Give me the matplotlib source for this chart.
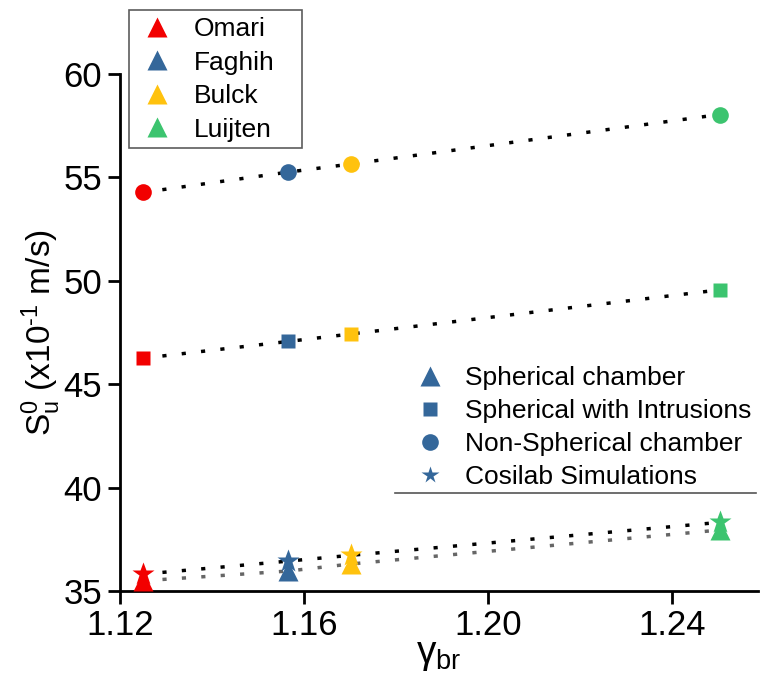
import matplotlib
matplotlib.use("Agg")
from matplotlib import pyplot as plt
from matplotlib.lines import Line2D
import numpy as np

plt.rcParams['font.family'] = ['Liberation Sans', 'DejaVu Sans']
plt.rcParams['mathtext.fontset'] = 'custom'
plt.rcParams['mathtext.rm'] = 'Liberation Sans'
plt.rcParams['mathtext.it'] = 'Liberation Sans:italic'

# data
gamma_br = [1.125, 1.1566, 1.1702, 1.2504]
sources = ["Omari", "Faghih", "Bulck", "Luijten"]
colors = ["#F20000", "#34679A", "#FFC20E", "#3CC46F"]

su_spherical = [35.5, 35.97, 36.31, 37.95]
su_intrusions = [46.25, 47.06, 47.42, 49.55]
su_nonspherical = [54.26, 55.24, 55.63, 58.02]
su_cosilab = [35.82, 36.45, 36.73, 38.32]

methods = ["Spherical chamber", "Spherical with Intrusions",
           "Non-Spherical chamber", "Cosilab Simulations"]

fig = plt.figure(figsize=(7.6, 6.81), dpi=100)
ax = fig.add_axes([0.158, 0.132, 0.839, 0.760])

# dotted connecting lines
dots = (0, (1.2, 4.4))
ax.plot(gamma_br, su_nonspherical, ls=dots, color="black", lw=2.5, zorder=1)
ax.plot(gamma_br, su_intrusions, ls=dots, color="black", lw=2.5, zorder=1)
ax.plot(gamma_br, su_spherical, ls=dots, color="#666666", lw=2.5, zorder=1)
ax.plot(gamma_br, su_cosilab, ls=dots, color="black", lw=2.5, zorder=1)

for i in range(len(gamma_br)):
    ax.plot(gamma_br[i], su_nonspherical[i], "o", ms=12, color=colors[i], mec="none", zorder=3)
    ax.plot(gamma_br[i], su_intrusions[i], "s", ms=10.5, color=colors[i], mec="none", zorder=3)
    ax.plot(gamma_br[i], su_spherical[i], "^", ms=14, color=colors[i], mec="none", zorder=3)
    ax.plot(gamma_br[i], su_cosilab[i], "*", ms=17, color=colors[i], mec="none", zorder=4)

ax.set_xlim(1.12, 1.2587)
ax.set_ylim(35, 60)
ax.set_xticks([1.12, 1.16, 1.20, 1.24])
ax.set_xticklabels(["1.12", "1.16", "1.20", "1.24"])
ax.set_yticks([35, 40, 45, 50, 55, 60])

ax.spines["top"].set_visible(False)
ax.spines["right"].set_visible(False)
ax.spines["left"].set_linewidth(2)
ax.spines["bottom"].set_linewidth(2)
ax.tick_params(axis="both", direction="out", length=9, width=2, labelsize=25, pad=4)

ax.set_xlabel("γ$_{\\mathrm{br}}$", fontsize=28, labelpad=-4)
ax.set_ylabel("$\\mathrm{S_u^0}$ (x10$^{\\mathrm{‐1}}$ m/s)", fontsize=24, labelpad=0)

# source legend (colours), stretched to the width of the original box
src_handles = [Line2D([], [], marker="^", ls="none", ms=14, color=c, mec="none") for c in colors]
leg1 = ax.legend(src_handles, sources, loc="upper left",
                 bbox_to_anchor=(0.014, 1.122, 0.271, 0.0), mode="expand",
                 fontsize=19, frameon=True, fancybox=False, edgecolor="#333333",
                 handletextpad=0.6, labelspacing=0.36, borderpad=0.25, borderaxespad=0,
                 handlelength=1.6)
leg1.get_frame().set_linewidth(1.2)
ax.add_artist(leg1)

# method legend (shapes)
blue = colors[1]
meth_handles = [Line2D([], [], marker="^", ls="none", ms=14, color=blue, mec="none"),
                Line2D([], [], marker="s", ls="none", ms=10.5, color=blue, mec="none"),
                Line2D([], [], marker="o", ls="none", ms=12, color=blue, mec="none"),
                Line2D([], [], marker="*", ls="none", ms=13, color=blue, mec="none")]
ax.legend(meth_handles, methods, loc="lower left", bbox_to_anchor=(0.445, 0.197),
          fontsize=19, frameon=False, handletextpad=0.3, labelspacing=0.34,
          borderpad=0, borderaxespad=0)

# thin rule under the method legend
fig.add_artist(Line2D([395 / 760, 756 / 760], [1 - 493 / 681, 1 - 493 / 681],
                      color="#555555", lw=1.2))

fig.savefig("out.png", dpi=100)
